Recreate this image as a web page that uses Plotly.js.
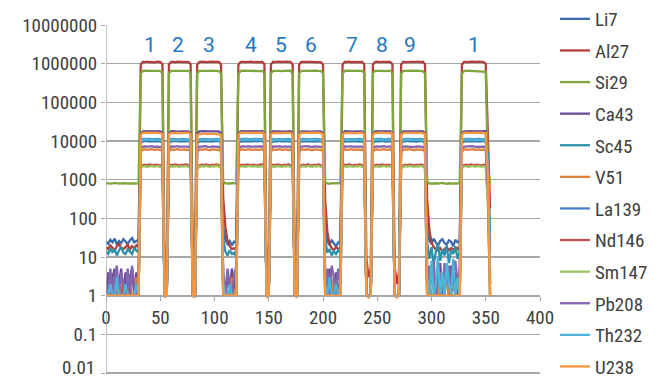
<!DOCTYPE html>
<html><head><meta charset="utf-8">
<script src="https://cdn.plot.ly/plotly-3.0.1.min.js"></script>
<style>html,body{margin:0;padding:0;background:#fff;}#chart{width:668px;height:378px;}</style>
</head><body><div id="chart"></div>
<script>
const time = [0,2,4,6,8,10,12,14,16,18,20,22,24,26,28,30,32,34,36,38,40,42,44,46,48,50,52,54,56,58,60,62,64,66,68,70,72,74,76,78,80,82,84,86,88,90,92,94,96,98,100,102,104,106,108,110,112,114,116,118,120,122,124,126,128,130,132,134,136,138,140,142,144,146,148,150,152,154,156,158,160,162,164,166,168,170,172,174,176,178,180,182,184,186,188,190,192,194,196,198,200,202,204,206,208,210,212,214,216,218,220,222,224,226,228,230,232,234,236,238,240,242,244,246,248,250,252,254,256,258,260,262,264,266,268,270,272,274,276,278,280,282,284,286,288,290,292,294,296,298,300,302,304,306,308,310,312,314,316,318,320,322,324,326,328,330,332,334,336,338,340,342,344,346,348,350,352,354];

const Li7 = [25,22,28,24,30,21,26,23,29,25,22,27,31,24,26,28,
8800,9900,10100,9800,9700,10000,9900,10200,9800,9900,9000,
1,1,
8900,9800,10000,9900,10100,9700,9900,10000,9800,10100,9100,
1,1,
8700,9900,9800,10100,9900,10000,9800,9700,10000,9900,10100,9000,
60,28,22,26,20,25,23,
8800,9800,10000,9900,10100,9800,9700,9900,10000,9800,10100,9900,9100,
1,1,
8900,10000,9800,9900,10100,9700,9900,10000,9800,9900,9000,
1,1,
8800,9900,10000,9800,10100,9900,9700,10000,9900,9800,10000,9100,
55,25,21,27,23,19,24,26,
8900,9800,10000,9900,10100,9800,9900,10000,9700,9900,9000,
1,1,1,
8800,9900,10000,9800,10100,9900,9700,10000,9900,9100,
1,1,1,
8700,9900,9800,10100,9900,10000,9800,9700,10000,9900,10100,9000,
58,27,22,30,24,20,26,29,23,21,27,25,19,28,24,26,
8800,9800,10000,9900,10100,9800,9700,9900,10000,9800,10100,9600,
3000,25];

const Al27 = [18,16,20,17,15,19,22,17,16,18,21,16,19,17,20,18,
9.5e5,1.12e6,1.1e6,1.13e6,1.1e6,1.12e6,1.09e6,1.11e6,1.13e6,1.1e6,9.8e5,
6,3,
9.6e5,1.11e6,1.12e6,1.1e6,1.13e6,1.11e6,1.1e6,1.12e6,1.1e6,1.11e6,9.7e5,
12,8,
9.5e5,1.1e6,1.13e6,1.11e6,1.12e6,1.1e6,1.13e6,1.11e6,1.1e6,1.12e6,1.11e6,9.6e5,
350,60,26,19,16,17,15,
9.4e5,1.11e6,1.13e6,1.1e6,1.12e6,1.11e6,1.13e6,1.1e6,1.12e6,1.11e6,1.1e6,1.12e6,9.7e5,
5,3,
9.5e5,1.12e6,1.1e6,1.13e6,1.11e6,1.1e6,1.12e6,1.13e6,1.1e6,1.11e6,9.6e5,
7,4,
9.6e5,1.11e6,1.12e6,1.1e6,1.13e6,1.11e6,1.12e6,1.1e6,1.11e6,1.13e6,1.1e6,9.5e5,
300,45,22,17,15,18,16,15,
9.5e5,1.12e6,1.11e6,1.13e6,1.1e6,1.12e6,1.11e6,1.1e6,1.13e6,1.11e6,9.7e5,
9,3,5,
9.6e5,1.11e6,1.13e6,1.1e6,1.12e6,1.11e6,1.1e6,1.12e6,1.11e6,9.6e5,
6,2,4,
9.5e5,1.12e6,1.1e6,1.13e6,1.11e6,1.12e6,1.1e6,1.11e6,1.13e6,1.1e6,1.12e6,9.7e5,
320,50,24,18,16,15,17,14,16,18,15,17,16,14,17,15,
9.4e5,1.11e6,1.12e6,1.1e6,1.13e6,1.11e6,1.1e6,1.12e6,1.13e6,1.11e6,1.1e6,1.0e6,
2.5e4,180];

const Si29 = [820,800,790,810,830,805,795,780,800,815,790,805,820,800,790,810,
5.6e5,6.5e5,6.6e5,6.5e5,6.45e5,6.55e5,6.5e5,6.6e5,6.5e5,6.45e5,5.8e5,
1,1,
5.7e5,6.5e5,6.55e5,6.6e5,6.5e5,6.45e5,6.55e5,6.5e5,6.6e5,6.5e5,5.8e5,
1,1,
5.6e5,6.55e5,6.5e5,6.6e5,6.5e5,6.45e5,6.5e5,6.6e5,6.55e5,6.5e5,6.45e5,5.7e5,
900,810,790,800,815,795,805,
5.5e5,6.5e5,6.6e5,6.55e5,6.5e5,6.45e5,6.5e5,6.6e5,6.55e5,6.5e5,6.45e5,6.5e5,5.8e5,
1,1,
5.6e5,6.55e5,6.5e5,6.6e5,6.5e5,6.45e5,6.55e5,6.5e5,6.6e5,6.5e5,5.7e5,
1,1,
5.7e5,6.5e5,6.55e5,6.6e5,6.5e5,6.45e5,6.5e5,6.55e5,6.6e5,6.5e5,6.45e5,5.8e5,
880,800,780,810,790,805,820,800,
5.6e5,6.5e5,6.6e5,6.55e5,6.5e5,6.45e5,6.5e5,6.6e5,6.5e5,6.55e5,5.8e5,
1,1,1,
5.7e5,6.55e5,6.5e5,6.6e5,6.5e5,6.45e5,6.55e5,6.5e5,6.6e5,5.8e5,
1,1,1,
5.6e5,6.5e5,6.55e5,6.6e5,6.5e5,6.45e5,6.5e5,6.6e5,6.55e5,6.5e5,6.45e5,5.7e5,
890,790,800,820,810,790,805,830,800,785,810,820,795,800,815,805,
5.5e5,6.5e5,6.6e5,6.55e5,6.5e5,6.45e5,6.5e5,6.6e5,6.55e5,6.5e5,6.45e5,6.2e5,
2000,820];

const Ca43 = [1,4,1,3,5,1,2,5,1,4,1,3,5,1,4,2,
15500,17800,18000,17600,17900,18100,17700,17900,18000,17800,16300,
1,1,
15600,17900,17700,18000,17800,17600,17900,18100,17800,17900,16200,
1,1,
15400,17700,17900,17800,18000,17700,17600,17900,17800,18000,17700,16100,
3,1,4,1,5,2,1,
15500,17800,18000,17700,17900,18100,17700,17900,18000,17800,17900,18200,16300,
1,1,
15600,17900,17700,18000,17800,17600,17900,18100,17800,17900,16200,
1,1,
15500,17800,17900,17700,18000,17800,17600,17900,17800,18000,17700,16300,
4,1,5,2,1,4,1,3,
15600,17900,17700,18000,17800,17600,17900,18100,17800,17900,16200,
1,1,1,
15500,17800,18000,17700,17900,18100,17700,17900,18000,16300,
1,1,1,
15400,17700,17900,17800,18000,17700,17600,17900,17800,18000,17700,16100,
5,1,6,2,1,4,7,1,3,5,1,6,2,4,1,3,
15500,17800,18000,17700,17900,18100,17700,17900,18000,17800,17900,18000,
900,2];

const Sc45 = [14,12,17,13,16,11,15,18,13,12,16,14,12,17,15,13,
9400,10400,10600,10300,10500,10400,10200,10500,10600,10300,9600,
1,1,
9500,10500,10300,10600,10400,10200,10500,10400,10600,10300,9700,
1,1,
9300,10300,10500,10400,10600,10300,10200,10500,10400,10600,10300,9500,
30,14,11,15,12,13,10,
9400,10400,10600,10300,10500,10400,10200,10500,10600,10300,10400,10500,9600,
1,1,
9500,10500,10300,10600,10400,10200,10500,10400,10600,10300,9500,
1,1,
9400,10400,10500,10300,10600,10400,10200,10500,10400,10600,10300,9600,
28,13,16,11,14,12,15,13,
9500,10500,10300,10600,10400,10200,10500,10400,10600,10300,9500,
1,1,1,
9400,10400,10600,10300,10500,10400,10200,10500,10600,9600,
1,1,1,
9300,10300,10500,10400,10600,10300,10200,10500,10400,10600,10300,9500,
25,9,18,6,14,22,8,16,11,20,7,15,12,19,9,14,
9400,10400,10600,10300,10500,10400,10200,10500,10600,10300,10400,9800,
3500,15];

const V51 = [1,1,3,1,1,2,1,3,1,1,1,2,1,1,3,1,
5300,6000,6100,5900,6000,6200,5900,6000,6100,5900,5500,
1,1,
5400,6100,5900,6000,6200,5900,6000,6100,5900,6000,5500,
1,1,
5200,5900,6100,6000,6200,5900,5800,6100,6000,6100,5900,5400,
1,2,1,1,3,1,1,
5300,6000,6100,5900,6000,6200,5900,6000,6100,5900,6000,6100,5500,
1,1,
5400,6100,5900,6000,6200,5900,6000,6100,5900,6000,5400,
1,1,
5300,6000,6100,5900,6200,6000,5800,6100,6000,6100,5900,5500,
1,1,2,1,3,1,1,2,
5400,6100,5900,6000,6200,5900,6000,6100,5900,6000,5400,
1,1,1,
5300,6000,6100,5900,6000,6200,5900,6000,6100,5500,
1,1,1,
5200,5900,6100,6000,6200,5900,5800,6100,6000,6100,5900,5400,
1,3,1,1,2,1,4,1,1,3,1,1,2,1,3,1,
5300,6000,6100,5900,6000,6200,5900,6000,6100,5900,6000,5800,
500,1];

const La139 = [1,1,1,1,1,1,1,1,1,1,1,1,1,1,1,1,
10100,11200,11400,11100,11300,11200,11000,11300,11400,11100,10300,
1,1,
10200,11300,11100,11400,11200,11000,11300,11200,11400,11100,10400,
1,1,
10000,11100,11300,11200,11400,11100,11000,11300,11200,11400,11100,10300,
2,1,1,1,1,1,1,
10100,11200,11400,11100,11300,11200,11000,11300,11400,11100,11200,11300,10400,
1,1,
10200,11300,11100,11400,11200,11000,11300,11200,11400,11100,10300,
1,1,
10100,11200,11300,11100,11400,11200,11000,11300,11200,11400,11100,10400,
2,1,1,1,1,1,1,1,
10200,11300,11100,11400,11200,11000,11300,11200,11400,11100,10300,
1,1,1,
10100,11200,11400,11100,11300,11200,11000,11300,11400,10400,
1,1,1,
10000,11100,11300,11200,11400,11100,11000,11300,11200,11400,11100,10300,
2,1,1,1,1,1,1,1,1,1,1,1,1,1,1,1,
10100,11200,11400,11100,11300,11200,11000,11300,11400,11100,11200,11000,
4000,2];

const Nd146 = [1,1,1,2,1,1,1,1,2,1,1,1,1,1,1,1,
2100,2400,2450,2350,2500,2400,2380,2450,2400,2350,2200,
1,1,
2150,2450,2380,2500,2400,2350,2450,2400,2500,2380,2200,
1,1,
2050,2350,2450,2400,2500,2380,2350,2450,2400,2500,2400,2150,
1,1,1,1,1,1,1,
2100,2400,2450,2350,2500,2400,2380,2450,2400,2350,2450,2500,2200,
1,1,
2150,2450,2380,2500,2400,2350,2450,2400,2500,2380,2150,
1,1,
2100,2400,2450,2350,2500,2400,2350,2450,2400,2500,2400,2200,
1,1,1,1,1,1,1,1,
2150,2450,2380,2500,2400,2350,2450,2400,2500,2380,2150,
1,1,1,
2100,2400,2450,2350,2500,2400,2380,2450,2400,2200,
1,1,1,
2050,2350,2450,2400,2500,2380,2350,2450,2400,2500,2400,2150,
1,1,1,1,1,1,1,1,1,1,1,1,1,1,1,1,
2100,2400,2450,2350,2500,2400,2380,2450,2400,2350,2450,2400,
300,1];

const Sm147 = [1,1,1,1,1,1,1,1,1,1,1,1,1,1,1,1,
1950,2200,2250,2150,2200,2280,2180,2220,2250,2150,2050,
1,1,
1980,2230,2170,2260,2200,2150,2240,2190,2270,2180,2020,
1,1,
1900,2150,2250,2200,2280,2170,2150,2240,2200,2270,2190,1980,
1,1,1,1,1,1,1,
1950,2200,2250,2150,2200,2280,2180,2220,2250,2150,2230,2260,2050,
1,1,
1980,2230,2170,2260,2200,2150,2240,2190,2270,2180,2000,
1,1,
1950,2200,2250,2150,2280,2200,2150,2240,2200,2270,2190,2050,
1,1,1,1,1,1,1,1,
1980,2230,2170,2260,2200,2150,2240,2190,2270,2180,2000,
1,1,1,
1950,2200,2250,2150,2200,2280,2180,2220,2250,2050,
1,1,1,
1900,2150,2250,2200,2280,2170,2150,2240,2200,2270,2190,1980,
1,1,1,1,1,1,1,1,1,1,1,1,1,1,1,1,
1950,2200,2250,2150,2200,2280,2180,2220,2250,2150,2230,2200,
250,1];

const Pb208 = [2,1,5,1,3,6,1,4,2,1,5,1,6,2,1,3,
6400,7200,7300,7100,7200,7400,7100,7200,7300,7100,6600,
1,1,
6500,7300,7100,7200,7400,7100,7200,7300,7100,7200,6600,
1,1,
6300,7100,7300,7200,7400,7100,7000,7300,7200,7300,7100,6500,
4,1,5,2,1,3,6,
6400,7200,7300,7100,7200,7400,7100,7200,7300,7100,7200,7300,6600,
1,1,
6500,7300,7100,7200,7400,7100,7200,7300,7100,7200,6500,
1,1,
6400,7200,7300,7100,7400,7200,7000,7300,7200,7300,7100,6600,
2,5,1,6,3,1,5,2,
6500,7300,7100,7200,7400,7100,7200,7300,7100,7200,6500,
1,1,1,
6400,7200,7300,7100,7200,7400,7100,7200,7300,6600,
1,1,1,
6300,7100,7300,7200,7400,7100,7000,7300,7200,7300,7100,6500,
1,6,2,8,1,5,3,1,7,2,6,1,4,8,2,5,
6400,7200,7300,7100,7200,7400,7100,7200,7300,7100,7200,7000,
600,4];

const Th232 = [1,1,2,1,1,3,1,1,1,2,1,1,1,1,2,1,
9800,10900,11000,10800,10900,11100,10800,10900,11000,10800,10000,
1,1,
9900,10900,10800,11000,10900,10700,10900,11000,10800,11000,10100,
1,1,
9700,10800,11000,10900,11100,10800,10700,11000,10900,11000,10800,9900,
2,1,1,2,1,1,1,
9800,10900,11000,10800,10900,11100,10800,10900,11000,10800,10900,11000,10100,
1,1,
9900,10900,10800,11000,10900,10700,10900,11000,10800,11000,10000,
1,1,
9800,10800,10900,10800,11000,10900,10700,11000,10900,11100,10800,10100,
2,1,3,1,1,2,1,1,
9900,10900,10800,11000,10900,10700,10900,11000,10800,11000,10000,
1,1,1,
9800,10900,11000,10800,10900,11100,10800,10900,11000,10100,
1,1,1,
9700,10800,11000,10900,11100,10800,10700,11000,10900,11000,10800,9900,
3,1,8,1,2,10,1,4,1,7,2,1,9,1,3,1,
9800,10900,11000,10800,10900,11100,10800,10900,11000,10800,10900,10500,
2000,3];

const U238 = [1,1,1,1,1,1,1,1,1,1,1,1,1,1,1,1,
14800,16200,16400,16100,16300,16500,16100,16300,16400,16200,15400,
0.9,1,
14900,16300,16100,16400,16200,16000,16300,16500,16200,16300,15300,
1,0.9,
14200,15200,15400,15100,15300,15200,15000,15300,15400,15100,15300,14600,
1,1,1,1,1,1,1,
14800,16200,16400,16100,16300,16500,16100,16300,16400,16200,16300,16400,15400,
0.9,1,
14900,16300,16100,16400,16200,16000,16300,16500,16200,16300,15300,
1,0.9,
14800,16200,16300,16100,16400,16200,16000,16300,16200,16400,16100,15400,
1,1,1,1,1,1,1,1,
14900,16300,16100,16400,16200,16000,16300,16500,16200,16300,15300,
1,0.9,1,
14800,16200,16400,16100,16300,16500,16100,16300,16400,15400,
1,0.9,1,
14700,16100,16300,16200,16400,16100,16000,16300,16200,16400,16100,15300,
1,1,1,1,1,1,1,1,1,1,1,1,1,1,1,1,
14800,16200,16400,16100,16300,16500,16100,16300,16400,16200,16300,16000,
1200,1];

const seriesNames = ['Li7','Al27','Si29','Ca43','Sc45','V51','La139','Nd146','Sm147','Pb208','Th232','U238'];
const seriesValues = [Li7,Al27,Si29,Ca43,Sc45,V51,La139,Nd146,Sm147,Pb208,Th232,U238];
const seriesColors = ['#3D6CAD','#B23F3C','#7DA63C','#6A4D95','#2E90AB','#DD823D','#4A80C6','#C7504C','#9BC460','#8366AF','#4CB5D9','#F7963F'];

const peakLabels = ['1','2','3','4','5','6','7','8','9','1'];
const peakCenters = [40.6,66.4,94.9,133.6,161.3,188.9,226.7,254.4,280.2,339.2];

const yTickVals = [0.01,0.1,1,10,100,1000,10000,100000,1000000,10000000];
const yTickText = ['','0.1','1','10','100','1000','10000','100000','1000000','10000000'];
const bottomTickText = '0.01';

seriesValues.forEach((v,i)=>{ if(v.length!==time.length) throw new Error(seriesNames[i]+' length '+v.length+' vs '+time.length); });

const FONT = '"Roboto Condensed", "Liberation Sans Narrow", "DejaVu Sans Condensed", sans-serif';
const Y0 = -2.05, Y1 = 7.0015;

const traces = seriesNames.map((n,i)=>({
  type:'scatter', mode:'lines', name:n, x:time, y:seriesValues[i],
  line:{color:seriesColors[i], width:2.3}, legendgroup:'g'+i
}));

const annotations = peakLabels.map((t,i)=>({x:peakCenters[i], y:6.483, xref:'x', yref:'y', text:t, showarrow:false,
    font:{family:'Roboto, sans-serif', size:21, color:'#1E78C2'}, xanchor:'center', yanchor:'middle'}));
annotations.push({x:-0.02, xref:'paper', y:Math.log10(yTickVals[0]), yref:'y', text:bottomTickText, showarrow:false,
    xanchor:'right', yanchor:'bottom', yshift:-8, font:{family:FONT, size:19, color:'#404040'}});

const layout = {
  width:668, height:378,
  margin:{l:106, r:128, t:25, b:3},
  paper_bgcolor:'#ffffff', plot_bgcolor:'rgba(0,0,0,0)',
  showlegend:true,
  font:{family:FONT, size:19, color:'#404040'},
  xaxis:{range:[0,400], tick0:0, dtick:50, anchor:'free', position:(0-Y0)/(Y1-Y0),
    showgrid:false, zeroline:false, showline:true, linecolor:'#A6A6A6', linewidth:1.3,
    ticks:'outside', ticklen:4, tickcolor:'#A6A6A6', tickfont:{family:FONT,size:19,color:'#404040'}},
  yaxis:{type:'log', range:[Y0,Y1], tickvals:yTickVals, ticktext:yTickText, ticklabeloverflow:'allow',
    showgrid:true, gridcolor:'#A6A6A6', gridwidth:1.3, zeroline:false,
    showline:false, ticks:'outside', ticklen:4, tickcolor:'#A6A6A6',
    tickfont:{family:FONT,size:19,color:'#404040'}},
  shapes:[
    {type:'line', xref:'x', yref:'y', x0:0, x1:0, y0:0.01, y1:1e7, line:{color:'#A6A6A6', width:1.3}},
    {type:'line', xref:'paper', yref:'y', x0:0, x1:1, y0:0.01, y1:0.01, line:{color:'#A6A6A6', width:1.3}}
  ],
  legend:{x:1.0345, xanchor:'left', y:1.044, yanchor:'top', tracegroupgap:3.9, maxheight:1,
    font:{family:FONT,size:19,color:'#404040'}, bgcolor:'rgba(0,0,0,0)'},
  annotations: annotations
};

Plotly.newPlot('chart', traces, layout, {displayModeBar:false, staticPlot:true});
</script></body></html>
